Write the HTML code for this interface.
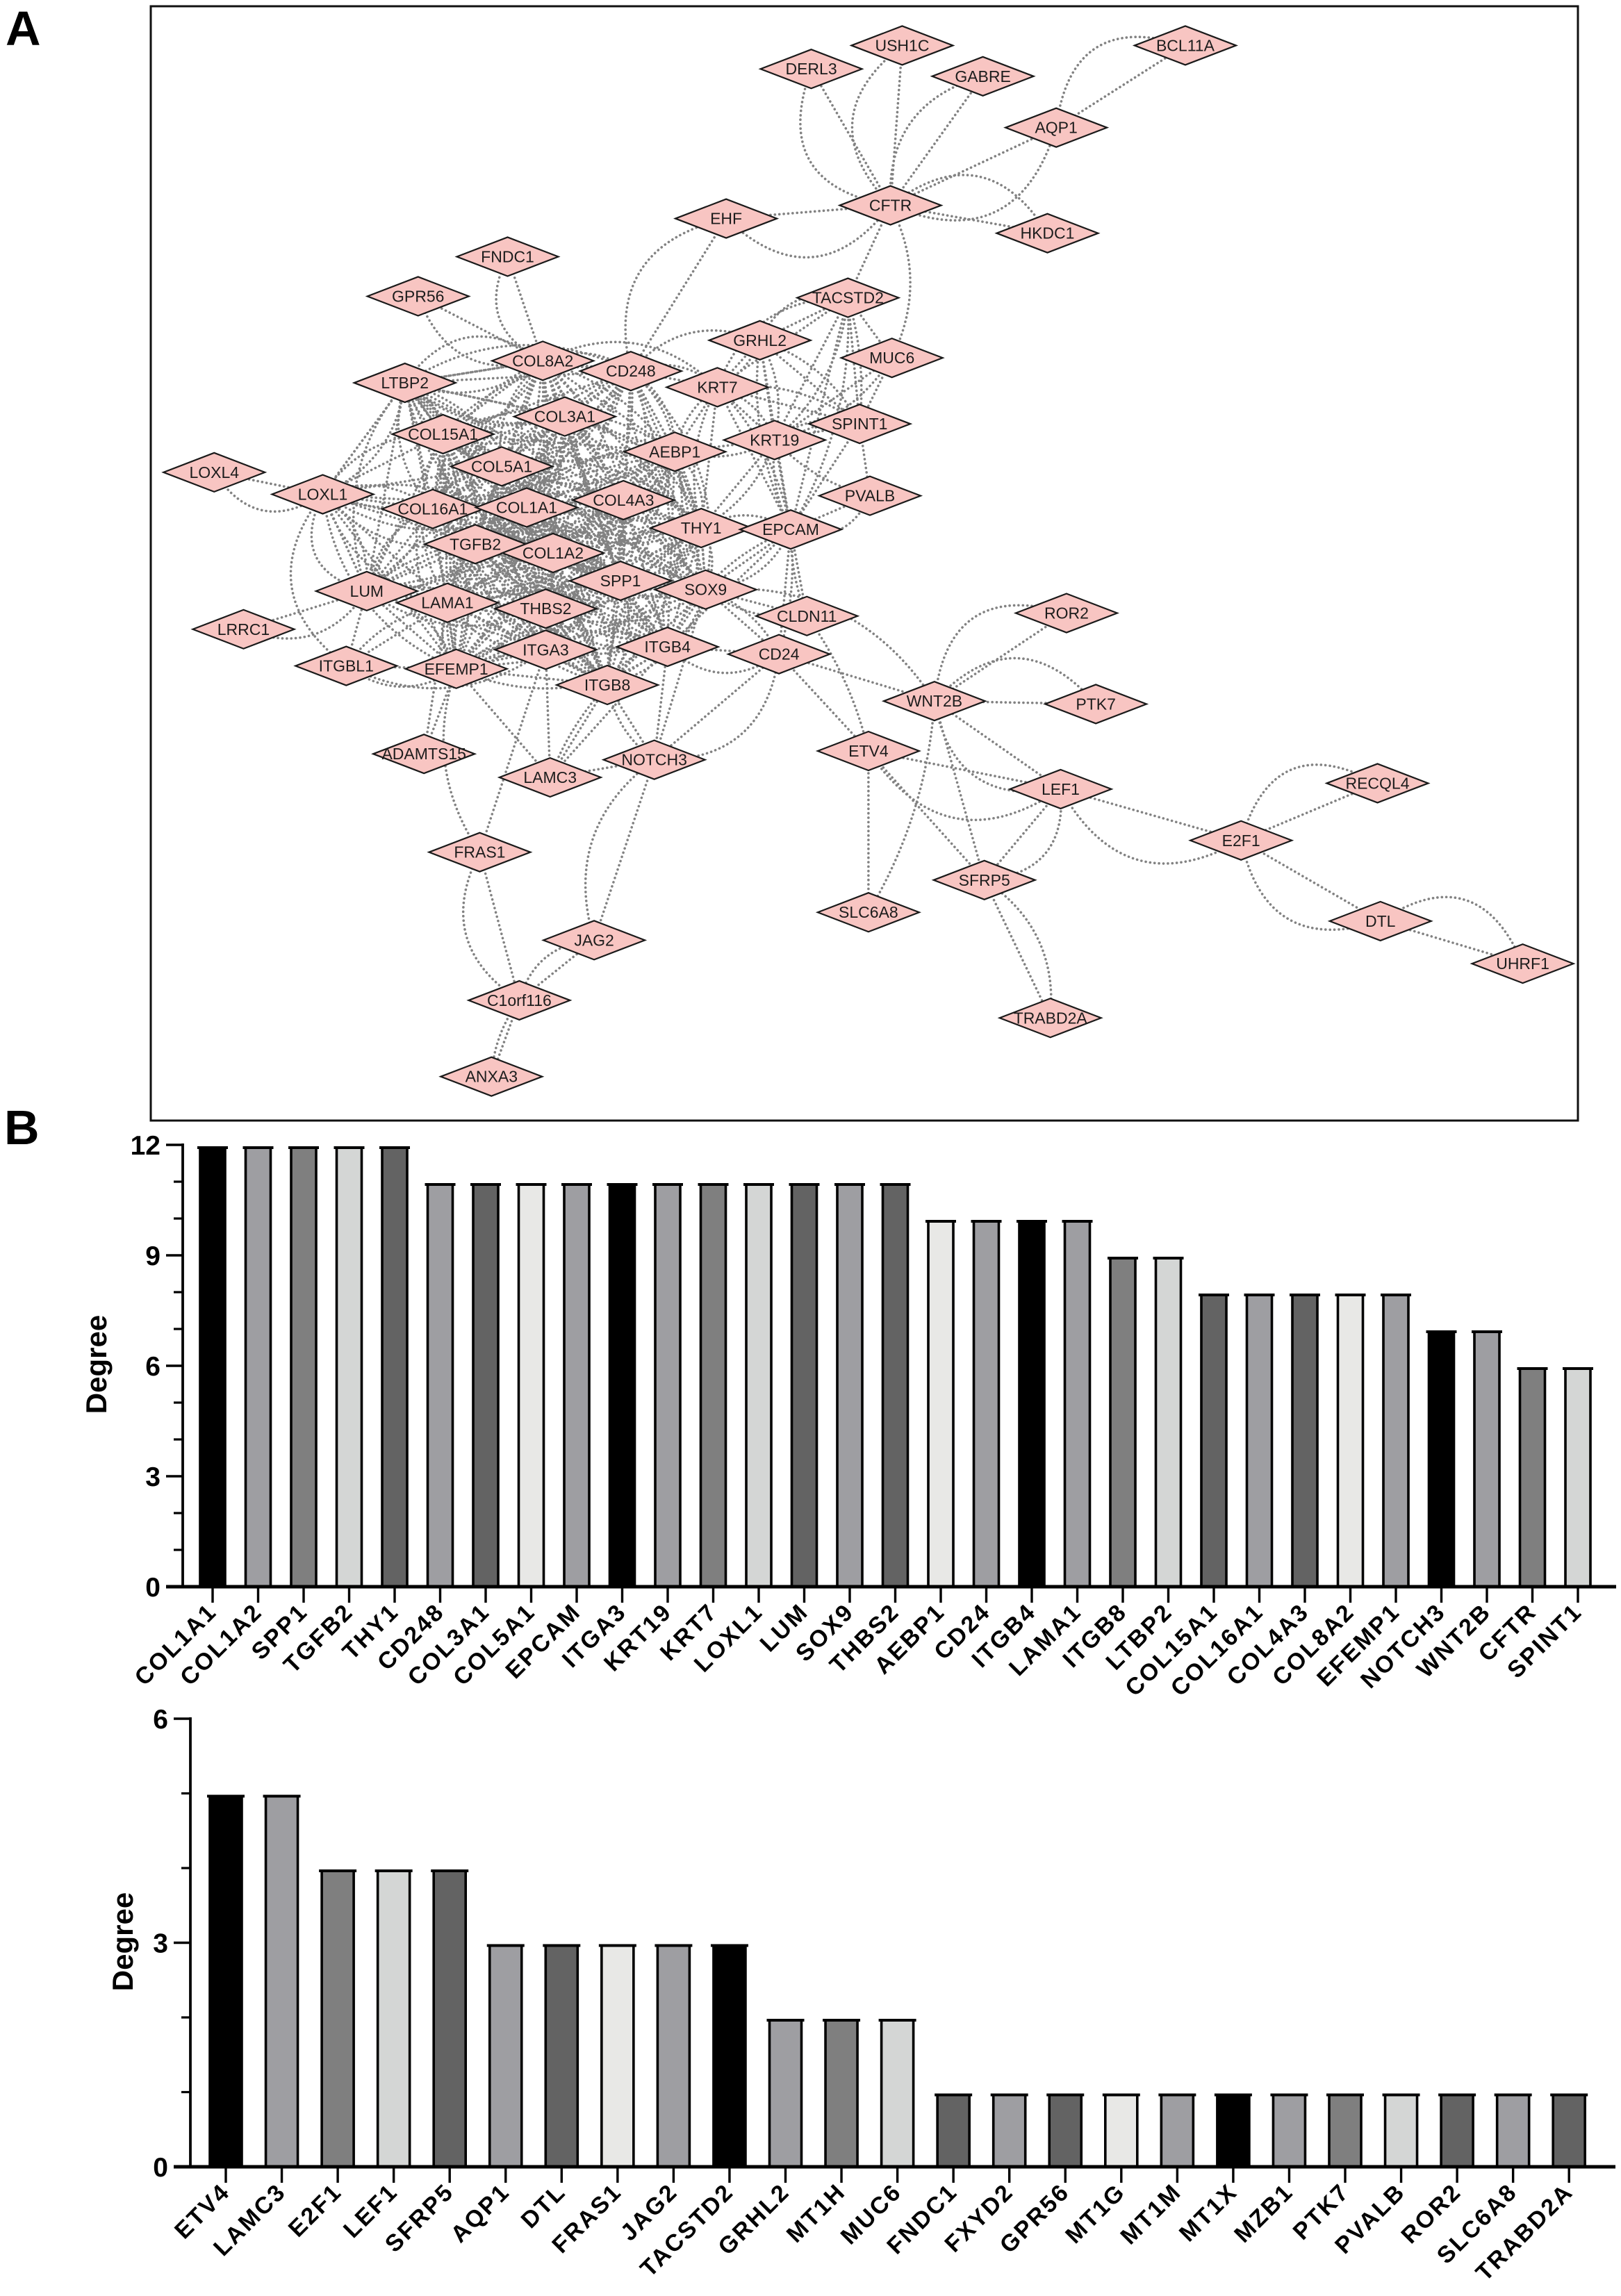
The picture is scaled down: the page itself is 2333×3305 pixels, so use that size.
<!DOCTYPE html>
<html lang="en">
<head>
<meta charset="utf-8">
<title>PPI network and degree bar charts</title>
<style>
html,body{margin:0;padding:0;background:#fff;}
svg{display:block;}
text{font-family:"Liberation Sans",Arial,sans-serif;}
</style>
</head>
<body>
<svg id="fig" xmlns="http://www.w3.org/2000/svg" width="2333" height="3305" viewBox="0 0 2333 3305">
  <rect x="0" y="0" width="2333" height="3305" fill="#ffffff"/>
  <text x="8" y="65" font-size="70" font-weight="700" fill="#000">A</text>
  <text x="6" y="1647" font-size="70" font-weight="700" fill="#000">B</text>
  <rect x="217" y="9" width="2054" height="1604" fill="none" stroke="#111" stroke-width="3"/>
  <g id="edges" fill="none" stroke="#828282" stroke-width="3.6" stroke-dasharray="0.1 6.3" stroke-linecap="round"></g>
  <g id="nodes"></g>
  <g id="chart1"></g>
  <g id="chart2"></g>
</svg>
<script>
/* ---------- network data (layout units) ---------- */
const nodeNames = ["USH1C","DERL3","GABRE","BCL11A","AQP1","CFTR","HKDC1","EHF","FNDC1","GPR56","TACSTD2","GRHL2","MUC6","COL8A2","CD248","LTBP2","KRT7","COL3A1","SPINT1","COL15A1","KRT19","AEBP1","COL5A1","LOXL4","LOXL1","PVALB","COL16A1","COL1A1","COL4A3","THY1","EPCAM","TGFB2","COL1A2","SPP1","SOX9","LUM","LAMA1","THBS2","ROR2","CLDN11","LRRC1","ITGB4","ITGA3","CD24","ITGBL1","EFEMP1","ITGB8","WNT2B","PTK7","ETV4","ADAMTS15","NOTCH3","LAMC3","LEF1","RECQL4","E2F1","FRAS1","SFRP5","SLC6A8","DTL","JAG2","UHRF1","C1orf116","TRABD2A","ANXA3"];
const nodeLayoutX = [615,553,670,808,720,607,714,495,346,285,578,518,608,370,430,276,489,385,586,302,528,460,342,146,220,593,295,359,425,478,539,324,377,423,481,250,305,372,727,550,166,455,372,531,236,311,414,637,747,592,289,446,375,723,939,846,327,671,592,941,405,1038,354,716,335];
const nodeLayoutY = [31,47,52,31,87,140,159,149,175,202,203,232,244,246,253,261,264,284,289,296,300,308,318,322,337,338,347,346,341,360,361,371,377,396,402,403,411,415,418,420,429,441,443,446,454,456,467,478,480,512,514,518,530,538,534,573,581,600,622,628,641,657,682,694,734];

/* interactions: from, to, arc bend (signed, 0 = none), draws straight edge (1/0) */
const edgeList = [
["CFTR","USH1C",.55,1],["CFTR","DERL3",.6,1],["CFTR","GABRE",.4,1],["CFTR","AQP1",-.55,1],["CFTR","HKDC1",.55,1],
["AQP1","BCL11A",.6,1],["EHF","CFTR",-.55,1],["EHF","CD248",-.5,1],["CFTR","TACSTD2",0,1],["CFTR","MUC6",.25,0],
["FNDC1","COL8A2",-.5,1],["GPR56","COL8A2",-.45,1],["LTBP2","COL8A2",.5,1],["COL8A2","KRT7",.35,0],
["LOXL4","LOXL1",-.5,1],["LOXL1","LTBP2",0,1],["LRRC1","LUM",-.4,1],["ITGBL1","LUM",0,1],["LOXL1","ITGBL1",-.5,0],["LOXL1","LUM",-.6,1],["ITGBL1","ITGA3",-.3,0],
["WNT2B","ROR2",.6,1],["WNT2B","PTK7",.55,1],["WNT2B","LEF1",-.5,1],["WNT2B","SFRP5",0,1],["SOX9","WNT2B",.3,0],["CD24","WNT2B",0,1],
["WNT2B","SLC6A8",.12,0],["ETV4","SLC6A8",0,1],["ETV4","LEF1",-.5,1],["ETV4","SFRP5",0,1],["CLDN11","ETV4",.1,0],["CD24","ETV4",0,1],
["LEF1","SFRP5",.5,1],["LEF1","E2F1",-.5,1],["E2F1","RECQL4",.62,1],["E2F1","DTL",-.55,1],["DTL","UHRF1",.6,1],["SFRP5","TRABD2A",.3,1],
["NOTCH3","JAG2",-.35,1],["JAG2","C1orf116",-.35,1],["FRAS1","C1orf116",-.45,1],["C1orf116","ANXA3",-.15,1],
["FRAS1","EFEMP1",.25,0],["FRAS1","ITGA3",0,1],["ADAMTS15","EFEMP1",0,1],["ADAMTS15","LAMA1",0,1],
["LAMC3","ITGB8",.1,1],["LAMC3","ITGA3",0,1],["LAMC3","ITGB4",0,1],["LAMC3","EFEMP1",0,1],["LAMC3","NOTCH3",0,1],
["ITGB8","NOTCH3",-.2,1],["NOTCH3","ITGB4",0,1],["NOTCH3","CD24",-.45,1],["NOTCH3","SOX9",0,1],["ITGB4","CD24",-.4,1],["CD24","SOX9",-.2,1],
["TACSTD2","GRHL2",-.4,1],["TACSTD2","KRT7",-.35,1],["TACSTD2","KRT19",.2,1],["TACSTD2","EPCAM",.15,1],["TACSTD2","SPINT1",.1,1],["TACSTD2","MUC6",0,1],
["GRHL2","KRT7",.2,1],["GRHL2","KRT19",.2,1],["GRHL2","SPINT1",.2,1],["GRHL2","EPCAM",-.15,1],
["KRT7","KRT19",.25,1],["KRT7","EPCAM",.15,1],["KRT7","SPINT1",.2,1],["KRT19","EPCAM",-.15,1],["KRT19","SPINT1",.25,1],["KRT19","PVALB",-.15,0],
["SPINT1","PVALB",0,1],["SPINT1","EPCAM",0,1],["MUC6","KRT19",.2,1],["MUC6","SPINT1",0,1],["EPCAM","PVALB",-.45,1],
["EPCAM","SOX9",.3,1],["EPCAM","CD24",.1,1],["CLDN11","EPCAM",.1,1],["CLDN11","SOX9",.2,1],["SOX9","THY1",.2,1],["THY1","EPCAM",.3,1],
["AEBP1","KRT7",.2,1],["AEBP1","KRT19",-.2,1],["CD248","KRT7",.3,1],["CD248","AEBP1",.2,1],["LTBP2","COL3A1",-.25,1],["ITGB4","EPCAM",.2,1],
["COL8A2","COL3A1",.2,1],["ITGBL1","LAMA1",.2,1],["ITGBL1","EFEMP1",-.35,1],["CD248","GRHL2",.35,0],["THY1","KRT7",.2,1],["THY1","KRT19",-.2,1]
];

/* densely interconnected extracellular-matrix core */
const coreNames = ["COL8A2","CD248","COL3A1","COL15A1","COL5A1","LOXL1","COL16A1","COL1A1","COL4A3","TGFB2","COL1A2","SPP1","LUM","LAMA1","THBS2","ITGA3","ITGB4","EFEMP1","ITGB8","LTBP2","AEBP1","THY1","SOX9"];
const coreReach = 170;

const NS = "http://www.w3.org/2000/svg";
const layoutScale = 2333 / 1105;
function sx(v){ return v * layoutScale; }
function sy(v){ return v * layoutScale; }
function nodeIndex(n){ return nodeNames.indexOf(n); }

const edgesG = document.getElementById("edges");
const nodesG = document.getElementById("nodes");

function drawEdge(aName, bName, bend, straight){
  const ia = nodeIndex(aName), ib = nodeIndex(bName);
  const ax = sx(nodeLayoutX[ia]), ay = sy(nodeLayoutY[ia]);
  const bx = sx(nodeLayoutX[ib]), by = sy(nodeLayoutY[ib]);
  const dx = bx - ax, dy = by - ay;
  if (straight) {
    const line = document.createElementNS(NS, "path");
    line.setAttribute("d", "M" + ax.toFixed(1) + " " + ay.toFixed(1) + "L" + bx.toFixed(1) + " " + by.toFixed(1));
    
    
    edgesG.appendChild(line);
  }
  if (bend !== 0) {
    const cx = (ax + bx) / 2 + dy * bend;
    const cy = (ay + by) / 2 - dx * bend;
    const arc = document.createElementNS(NS, "path");
    arc.setAttribute("d", "M" + ax.toFixed(1) + " " + ay.toFixed(1) + "Q" + cx.toFixed(1) + " " + cy.toFixed(1) + " " + bx.toFixed(1) + " " + by.toFixed(1));
    
    
    edgesG.appendChild(arc);
  }
}

edgeList.forEach(function(e){ drawEdge(e[0], e[1], e[2], e[3]); });

coreNames.forEach(function(a, i){
  coreNames.forEach(function(b, j){
    if (j <= i) return;
    const ia = nodeIndex(a), ib = nodeIndex(b);
    const d = Math.hypot(nodeLayoutX[ia] - nodeLayoutX[ib], nodeLayoutY[ia] - nodeLayoutY[ib]);
    if (d < coreReach) drawEdge(a, b, ((i + j) % 2 ? 1 : -1) * 0.28, 1);
  });
});

const nodeHalfW = 73, nodeHalfH = 28;
nodeNames.forEach(function(name, i){
  const x = sx(nodeLayoutX[i]), y = sy(nodeLayoutY[i]);
  const g = document.createElementNS(NS, "g");
  
  
  const d = document.createElementNS(NS, "polygon");
  d.setAttribute("points", (x - nodeHalfW) + "," + y + " " + x + "," + (y - nodeHalfH) + " " + (x + nodeHalfW) + "," + y + " " + x + "," + (y + nodeHalfH));
  d.setAttribute("fill", "#f8c5c2");
  d.setAttribute("stroke", "#1a1a1a");
  d.setAttribute("stroke-width", "2.2");
  
  
  g.appendChild(d);
  const t = document.createElementNS(NS, "text");
  t.setAttribute("x", x);
  t.setAttribute("y", y + 8);
  t.setAttribute("text-anchor", "middle");
  t.setAttribute("font-size", "23");
  t.setAttribute("fill", "#1c1c1c");
  
  
  t.textContent = name;
  g.appendChild(t);
  nodesG.appendChild(g);
});

/* ---------- bar chart data ---------- */
const topGenes = ["COL1A1","COL1A2","SPP1","TGFB2","THY1","CD248","COL3A1","COL5A1","EPCAM","ITGA3","KRT19","KRT7","LOXL1","LUM","SOX9","THBS2","AEBP1","CD24","ITGB4","LAMA1","ITGB8","LTBP2","COL15A1","COL16A1","COL4A3","COL8A2","EFEMP1","NOTCH3","WNT2B","CFTR","SPINT1"];
const topDegrees = [12,12,12,12,12,11,11,11,11,11,11,11,11,11,11,11,10,10,10,10,9,9,8,8,8,8,8,7,7,6,6];
const topMajorTicks = [0,3,6,9,12];
const topMinorTicks = [1,2,4,5,7,8,10,11];

const bottomGenes = ["ETV4","LAMC3","E2F1","LEF1","SFRP5","AQP1","DTL","FRAS1","JAG2","TACSTD2","GRHL2","MT1H","MUC6","FNDC1","FXYD2","GPR56","MT1G","MT1M","MT1X","MZB1","PTK7","PVALB","ROR2","SLC6A8","TRABD2A"];
const bottomDegrees = [5,5,4,4,4,3,3,3,3,3,2,2,2,1,1,1,1,1,1,1,1,1,1,1,1];
const bottomMajorTicks = [0,3,6];
const bottomMinorTicks = [1,2,4,5];

const barPalette = ["#000000","#9e9ea2","#7f7f7f","#d4d6d5","#636363","#9e9ea2","#636363","#e8e8e6","#9e9ea2"];

function drawChart(cfg){
  const root = document.getElementById(cfg.id);
  function xAt(i){ return cfg.x0 + cfg.step * i; }
  function yAt(v){ return cfg.yZero - (cfg.yZero - cfg.yTop) * v / cfg.yMax; }

  function seg(x1, y1, x2, y2, w, name){
    const l = document.createElementNS(NS, "line");
    l.setAttribute("x1", x1); l.setAttribute("y1", y1);
    l.setAttribute("x2", x2); l.setAttribute("y2", y2);
    l.setAttribute("stroke", "#000");
    l.setAttribute("stroke-width", w);
    
    
    root.appendChild(l);
  }

  cfg.genes.forEach(function(gene, i){
    const cx = xAt(i), top = yAt(cfg.values[i]) + 4;
    const r = document.createElementNS(NS, "rect");
    r.setAttribute("x", cx - cfg.barW / 2);
    r.setAttribute("y", top);
    r.setAttribute("width", cfg.barW);
    r.setAttribute("height", cfg.yZero - top);
    r.setAttribute("fill", barPalette[i % barPalette.length]);
    r.setAttribute("stroke", "#000");
    r.setAttribute("stroke-width", "3.6");
    
    
    root.appendChild(r);
    seg(cx - cfg.barW / 2 - 4, top, cx + cfg.barW / 2 + 4, top, 4, 'bar-cap');
    seg(cx, cfg.yZero, cx, cfg.yZero + 23, 3.4, 'x-tick');
    const t = document.createElementNS(NS, "text");
    const tx = cx + 8, ty = cfg.yZero + 38;
    t.setAttribute("x", tx);
    t.setAttribute("y", ty);
    t.setAttribute("text-anchor", "end");
    t.setAttribute("font-size", cfg.labelSize);
    t.setAttribute("font-weight", "700");
    t.setAttribute("letter-spacing", cfg.labelSpacing);
    t.setAttribute("fill", "#000");
    t.setAttribute("transform", "rotate(-45 " + tx + " " + ty + ")");
    
    
    t.textContent = gene;
    root.appendChild(t);
  });

  seg(cfg.axisX, cfg.yTop - 2, cfg.axisX, cfg.yZero, 3.8, 'y-axis-line');
  seg(cfg.axisX - 24, cfg.yZero, cfg.axisEnd, cfg.yZero, 5, 'x-axis-line');

  cfg.major.forEach(function(v){
    seg(cfg.axisX - 24, yAt(v), cfg.axisX, yAt(v), 3.6, 'y-major-tick');
    const t = document.createElementNS(NS, "text");
    t.setAttribute("x", cfg.axisX - 32);
    t.setAttribute("y", yAt(v) + 14);
    t.setAttribute("text-anchor", "end");
    t.setAttribute("font-size", "39");
    t.setAttribute("font-weight", "700");
    t.setAttribute("fill", "#000");
    
    
    t.textContent = String(v);
    root.appendChild(t);
  });
  cfg.minor.forEach(function(v){
    seg(cfg.axisX - 13, yAt(v), cfg.axisX, yAt(v), 3.2, 'y-minor-tick');
  });

  const title = document.createElementNS(NS, "text");
  title.setAttribute("x", cfg.titleX);
  title.setAttribute("y", cfg.titleY);
  title.setAttribute("text-anchor", "middle");
  title.setAttribute("font-size", "42");
  title.setAttribute("font-weight", "700");
  title.setAttribute("fill", "#000");
  title.setAttribute("transform", "rotate(-90 " + cfg.titleX + " " + cfg.titleY + ")");
  
  
  title.textContent = "Degree";
  root.appendChild(title);
}

drawChart({id:"chart1",genes:topGenes,values:topDegrees,major:topMajorTicks,minor:topMinorTicks,yMax:12,x0:306,step:65.5,barW:36,yZero:2284,yTop:1648,axisX:263,axisEnd:2326,titleX:153,titleY:1964,labelSize:34,labelSpacing:2.7});
drawChart({id:"chart2",genes:bottomGenes,values:bottomDegrees,major:bottomMajorTicks,minor:bottomMinorTicks,yMax:6,x0:325,step:80.55,barW:46,yZero:3119,yTop:2474,axisX:274,axisEnd:2325,titleX:191,titleY:2795,labelSize:34,labelSpacing:2.7});
</script>
</body>
</html>
